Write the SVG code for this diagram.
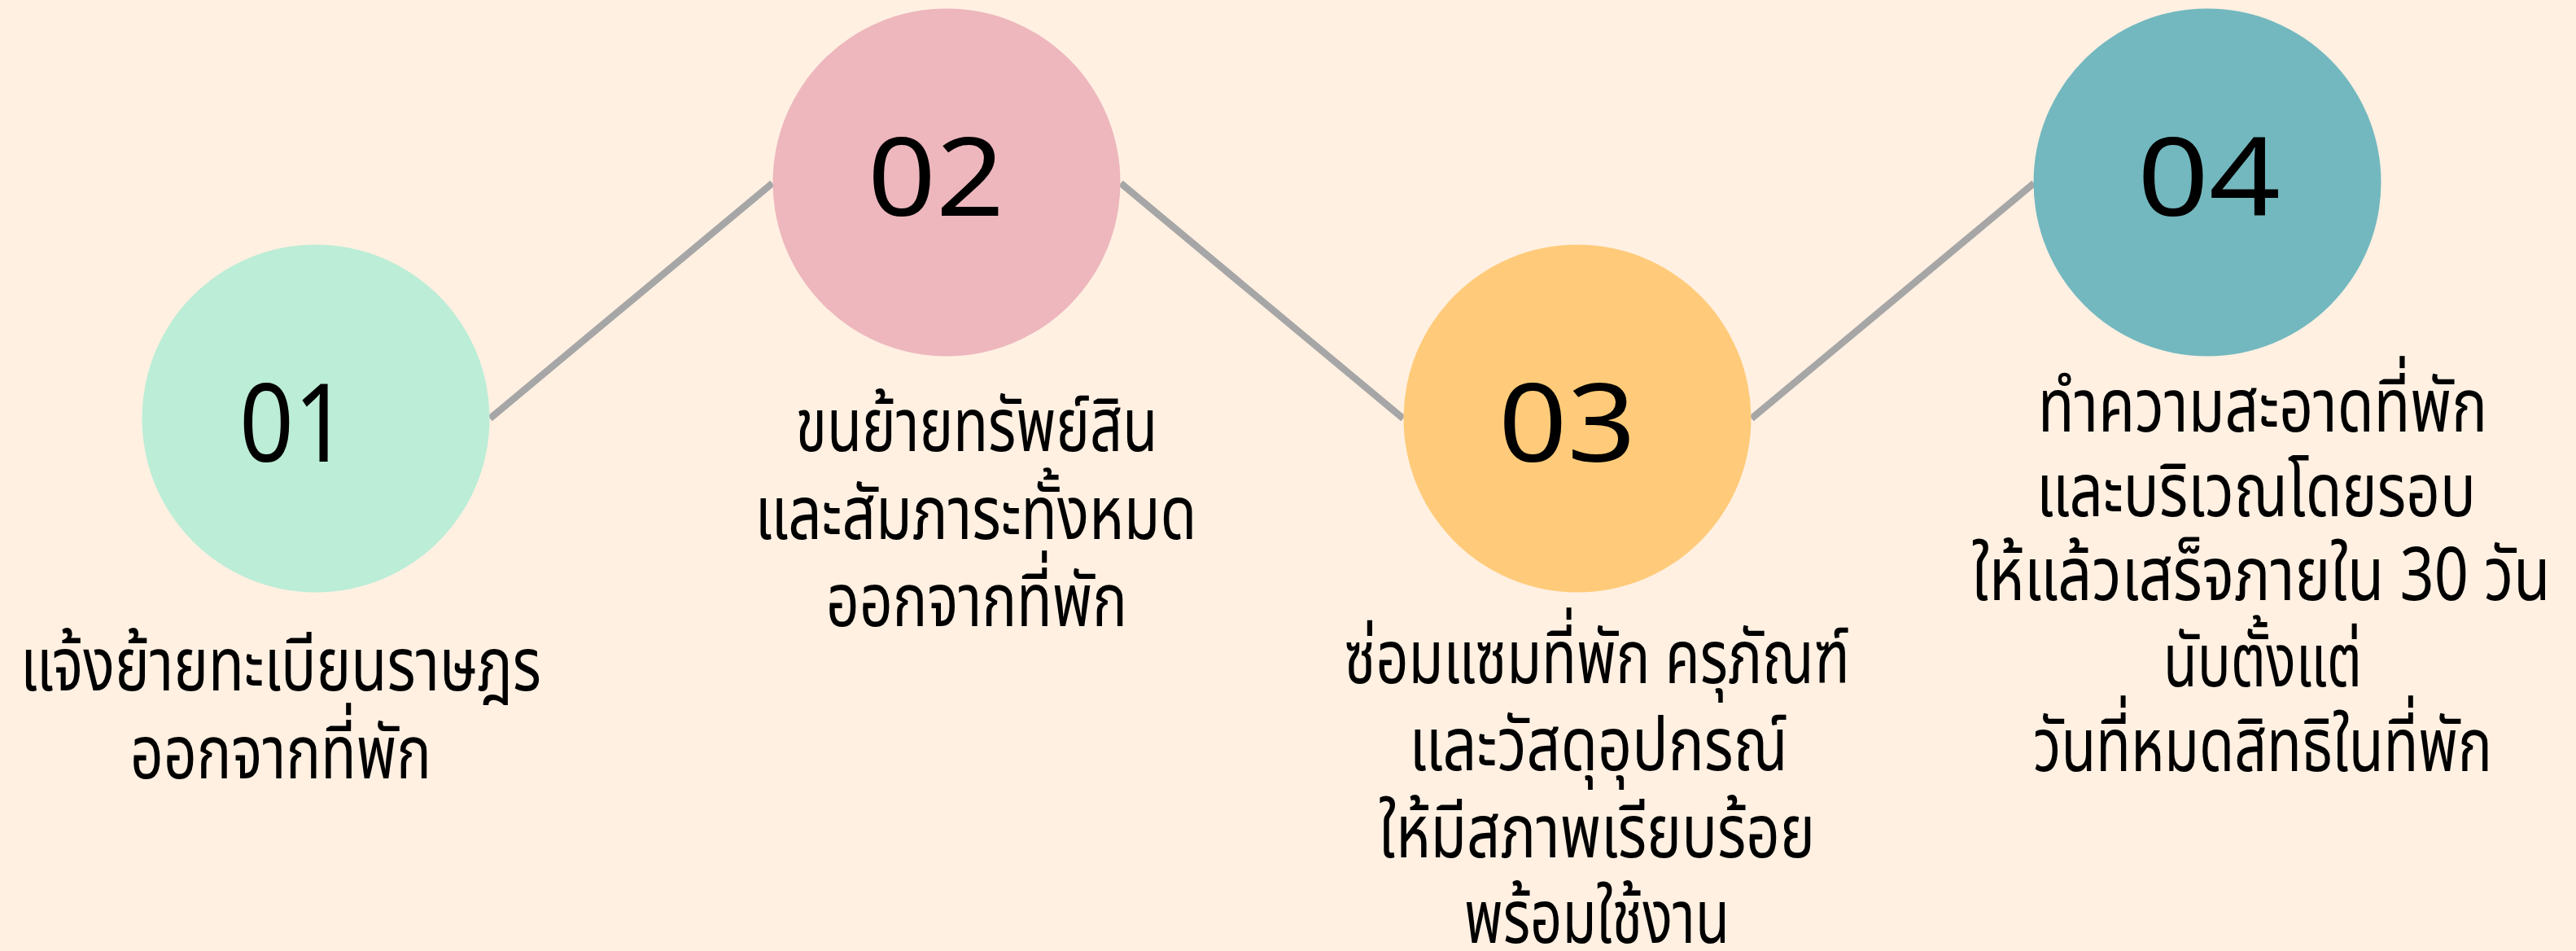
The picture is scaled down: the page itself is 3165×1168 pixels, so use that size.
<svg xmlns="http://www.w3.org/2000/svg" width="3165" height="1168" viewBox="0 0 3165 1168">
<style>
.num{font-family:"Noto Sans","DejaVu Sans",sans-serif;font-size:134px;fill:#000;}
.th{font-family:"Noto Sans Thai","Noto Sans","DejaVu Sans",sans-serif;font-size:92px;fill:#000;}
.conn{stroke:#A6A6A6;stroke-width:8.5;fill:none;}
</style>
<rect width="3165" height="1168" fill="#FFF0E2"/>
<g id="connectors">
<line class="conn" x1="602" y1="514" x2="949" y2="225"/>
<line class="conn" x1="1377" y1="225" x2="1724" y2="514"/>
<line class="conn" x1="2152" y1="514" x2="2499" y2="225"/>
</g>
<g id="node1">
<circle cx="388" cy="514" r="213.5" fill="#BCEDD6"/>
<text class="num" x="294" y="567" textLength="134" lengthAdjust="spacingAndGlyphs">01</text>
<text class="th" x="345" y="848" text-anchor="middle" textLength="640" lengthAdjust="spacingAndGlyphs">แจ้งย้ายทะเบียนราษฎร</text>
<text class="th" x="345" y="956" text-anchor="middle" textLength="370" lengthAdjust="spacingAndGlyphs">ออกจากที่พัก</text>
</g>
<g id="node2">
<circle cx="1163" cy="224" r="213.5" fill="#EDB7BD"/>
<text class="num" x="1066" y="265" textLength="168" lengthAdjust="spacingAndGlyphs">02</text>
<text class="th" x="1200" y="554" text-anchor="middle" textLength="445" lengthAdjust="spacingAndGlyphs">ขนย้ายทรัพย์สิน</text>
<text class="th" x="1199" y="662" text-anchor="middle" textLength="543" lengthAdjust="spacingAndGlyphs">และสัมภาระทั้งหมด</text>
<text class="th" x="1200" y="769" text-anchor="middle" textLength="370" lengthAdjust="spacingAndGlyphs">ออกจากที่พัก</text>
</g>
<g id="node3">
<circle cx="1938" cy="514" r="213.5" fill="#FFCB7A"/>
<text class="num" x="1841" y="567" textLength="169" lengthAdjust="spacingAndGlyphs">03</text>
<text class="th" x="1962" y="839" text-anchor="middle" textLength="621" lengthAdjust="spacingAndGlyphs">ซ่อมแซมที่พัก ครุภัณฑ์</text>
<text class="th" x="1964" y="946" text-anchor="middle" textLength="465" lengthAdjust="spacingAndGlyphs">และวัสดุอุปกรณ์</text>
<text class="th" x="1962" y="1053" text-anchor="middle" textLength="536" lengthAdjust="spacingAndGlyphs">ให้มีสภาพเรียบร้อย</text>
<text class="th" x="1962" y="1158" text-anchor="middle" textLength="326" lengthAdjust="spacingAndGlyphs">พร้อมใช้งาน</text>
</g>
<g id="node4">
<circle cx="2712" cy="224" r="213.5" fill="#73B8BF"/>
<text class="num" x="2626" y="265" textLength="176" lengthAdjust="spacingAndGlyphs">04</text>
<text class="th" x="2780" y="530" text-anchor="middle" textLength="552" lengthAdjust="spacingAndGlyphs">ทำความสะอาดที่พัก</text>
<text class="th" x="2772" y="634" text-anchor="middle" textLength="540" lengthAdjust="spacingAndGlyphs">และบริเวณโดยรอบ</text>
<text class="th" x="2778" y="737" text-anchor="middle" textLength="711" lengthAdjust="spacingAndGlyphs">ให้แล้วเสร็จภายใน 30 วัน</text>
<text class="th" x="2780" y="843" text-anchor="middle" textLength="244" lengthAdjust="spacingAndGlyphs">นับตั้งแต่</text>
<text class="th" x="2780" y="947" text-anchor="middle" textLength="564" lengthAdjust="spacingAndGlyphs">วันที่หมดสิทธิในที่พัก</text>
</g>
</svg>
